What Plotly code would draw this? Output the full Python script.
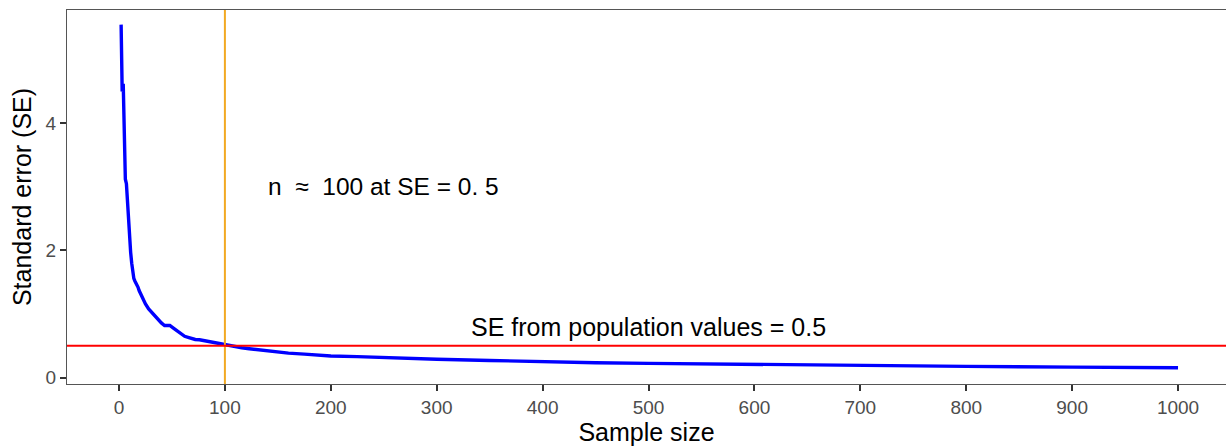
import plotly.graph_objects as go

# Sample size (n) and standard error
sample_n = [2, 3, 4, 6, 7, 8, 9, 10, 11, 12, 13, 14, 15, 17, 18, 19, 21, 23, 25, 28, 31,
            34, 37, 40, 43, 48, 52, 55, 58, 62, 66, 72, 76, 81, 85, 90, 95, 100, 108, 116,
            123, 130, 140, 150, 160, 175, 200, 225, 250, 300, 350, 400, 450, 500, 600,
            700, 800, 900, 1000]
se_values = [5.55, 4.50, 4.62, 3.12, 3.05, 2.72, 2.42, 2.18, 1.97, 1.80, 1.66, 1.56, 1.52,
             1.46, 1.42, 1.37, 1.30, 1.22, 1.16, 1.08, 1.02, 0.96, 0.91, 0.86, 0.82, 0.82,
             0.77, 0.73, 0.70, 0.65, 0.63, 0.60, 0.595, 0.58, 0.565, 0.55, 0.53, 0.51,
             0.49, 0.47, 0.455, 0.44, 0.42, 0.40, 0.385, 0.37, 0.34, 0.33, 0.315, 0.29,
             0.27, 0.25, 0.235, 0.225, 0.205, 0.19, 0.177, 0.165, 0.155]

x_ticks = [0, 100, 200, 300, 400, 500, 600, 700, 800, 900, 1000]
y_ticks = [0, 2, 4]
pop_se = 0.5
n_mark = 100

font_family = "Liberation Sans, Arial, sans-serif"

fig = go.Figure()
fig.add_trace(go.Scatter(x=sample_n, y=se_values, mode="lines",
                         line=dict(color="#0000FF", width=3.4, shape="linear"),
                         showlegend=False, hoverinfo="skip"))

fig.add_shape(type="line", xref="x", yref="paper", x0=n_mark, x1=n_mark, y0=0, y1=1,
              line=dict(color="#F2A922", width=2))
fig.add_shape(type="line", xref="paper", yref="y", x0=0, x1=1, y0=pop_se, y1=pop_se,
              line=dict(color="#FF0000", width=2))

fig.add_annotation(x=250, y=3.0, text="n  \u2248  100 at SE = 0. 5", showarrow=False,
                   font=dict(size=24.5, color="#000000", family=font_family))
fig.add_annotation(x=500, y=0.8, text="SE from population values = 0.5", showarrow=False,
                   font=dict(size=25, color="#000000", family=font_family))

fig.update_layout(
    width=1226, height=446,
    margin=dict(l=67, r=0, t=10, b=62),
    paper_bgcolor="white", plot_bgcolor="white",
    font=dict(family=font_family),
    xaxis=dict(range=[-49.1, 1045.3], tickvals=x_ticks, showgrid=False, zeroline=False,
               showline=True, mirror=True, linecolor="#555555", linewidth=1.2,
               ticks="outside", ticklen=6, tickwidth=1.5, tickcolor="#333333",
               tickfont=dict(size=19, color="#4D4D4D"),
               title=dict(text="Sample size", font=dict(size=25, color="#000000"), standoff=3)),
    yaxis=dict(range=[-0.1, 5.78], tickvals=y_ticks, showgrid=False, zeroline=False,
               showline=True, mirror=False, linecolor="#555555", linewidth=1.2,
               ticks="outside", ticklen=6, tickwidth=1.5, tickcolor="#333333",
               tickfont=dict(size=19, color="#4D4D4D"),
               title=dict(text="Standard error (SE)", font=dict(size=25, color="#000000"), standoff=6)),
)

fig.write_html("out.html")
